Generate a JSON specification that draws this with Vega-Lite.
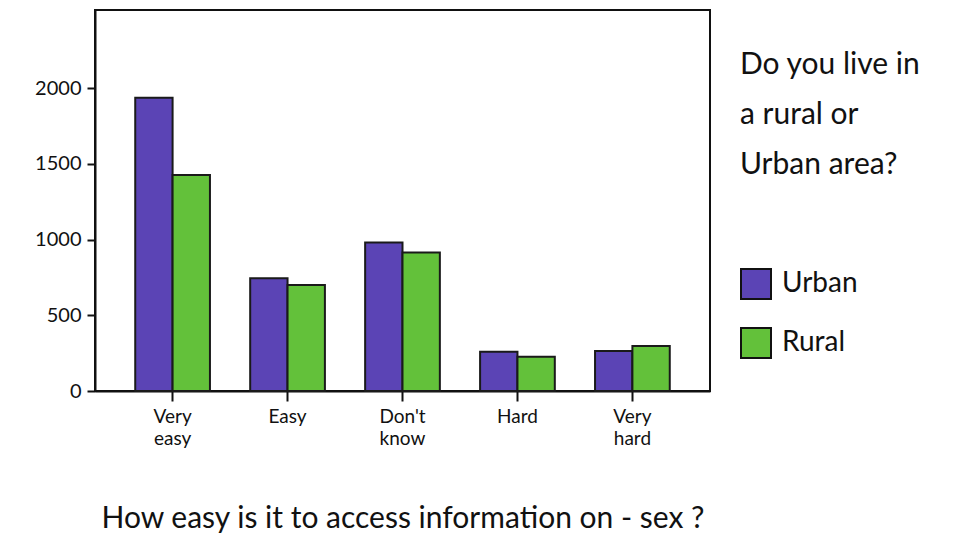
{
  "$schema": "https://vega.github.io/schema/vega-lite/v6.json",
  "autosize": "none",
  "width": 615,
  "height": 381,
  "padding": {"left": 95, "top": 10, "right": 262, "bottom": 155},
  "background": "white",
  "data": {
    "values": [
      {"answer": "Very easy", "area": "Urban", "count": 1936},
      {"answer": "Very easy", "area": "Rural", "count": 1426},
      {"answer": "Easy", "area": "Urban", "count": 744},
      {"answer": "Easy", "area": "Rural", "count": 700},
      {"answer": "Don't know", "area": "Urban", "count": 981},
      {"answer": "Don't know", "area": "Rural", "count": 915},
      {"answer": "Hard", "area": "Urban", "count": 259},
      {"answer": "Hard", "area": "Rural", "count": 226},
      {"answer": "Very hard", "area": "Urban", "count": 264},
      {"answer": "Very hard", "area": "Rural", "count": 297}
    ]
  },
  "mark": {"type": "bar", "stroke": "#1a1a1a", "strokeWidth": 2},
  "encoding": {
    "x": {
      "field": "answer",
      "type": "nominal",
      "sort": ["Very easy", "Easy", "Don't know", "Hard", "Very hard"],
      "scale": {"paddingInner": 0.35, "paddingOuter": 0.35},
      "axis": {
        "title": "How easy is it to access information on - sex ?",
        "titleFontSize": 30,
        "titleFont": "Lato",
        "titleFontWeight": "normal",
        "titleColor": "#111",
        "titlePadding": 55,
        "labelAngle": 0,
        "labelFont": "Lato",
        "labelFontSize": 19,
        "labelColor": "#111",
        "labelLineHeight": 22,
        "labelPadding": 6,
        "labelExpr": "split(datum.label, ' ')",
        "tickColor": "#111",
        "tickWidth": 2,
        "tickSize": 10,
        "domainColor": "#111",
        "domainWidth": 2
      }
    },
    "xOffset": {"field": "area", "type": "nominal", "sort": ["Urban", "Rural"]},
    "y": {
      "field": "count",
      "type": "quantitative",
      "scale": {"domain": [0, 2515], "nice": false},
      "axis": {
        "title": null,
        "format": "d",
        "values": [0, 500, 1000, 1500, 2000],
        "grid": false,
        "labelFont": "Lato",
        "labelFontSize": 20,
        "labelColor": "#111",
        "labelPadding": 6,
        "tickColor": "#111",
        "tickWidth": 2,
        "tickSize": 8,
        "domainColor": "#111",
        "domainWidth": 2
      }
    },
    "color": {
      "field": "area",
      "type": "nominal",
      "sort": ["Urban", "Rural"],
      "scale": {"domain": ["Urban", "Rural"], "range": ["#5b44b5", "#63c13a"]},
      "legend": {
        "title": ["Do you live in", "a rural or", "Urban area?"],
        "orient": "none",
        "legendX": 645,
        "legendY": 40,
        "titleFont": "Lato",
        "titleFontSize": 30,
        "titleFontWeight": "normal",
        "titleColor": "#111",
        "titleLineHeight": 50,
        "titlePadding": 88,
        "titleLimit": 300,
        "symbolType": "square",
        "symbolSize": 900,
        "symbolStrokeColor": "#111",
        "symbolStrokeWidth": 2,
        "symbolOpacity": 1,
        "labelFont": "Lato",
        "labelFontSize": 28,
        "labelColor": "#111",
        "labelOffset": 10,
        "rowPadding": 21,
        "offset": 0
      }
    }
  },
  "config": {
    "view": {"stroke": "#111", "strokeWidth": 2}
  }
}
